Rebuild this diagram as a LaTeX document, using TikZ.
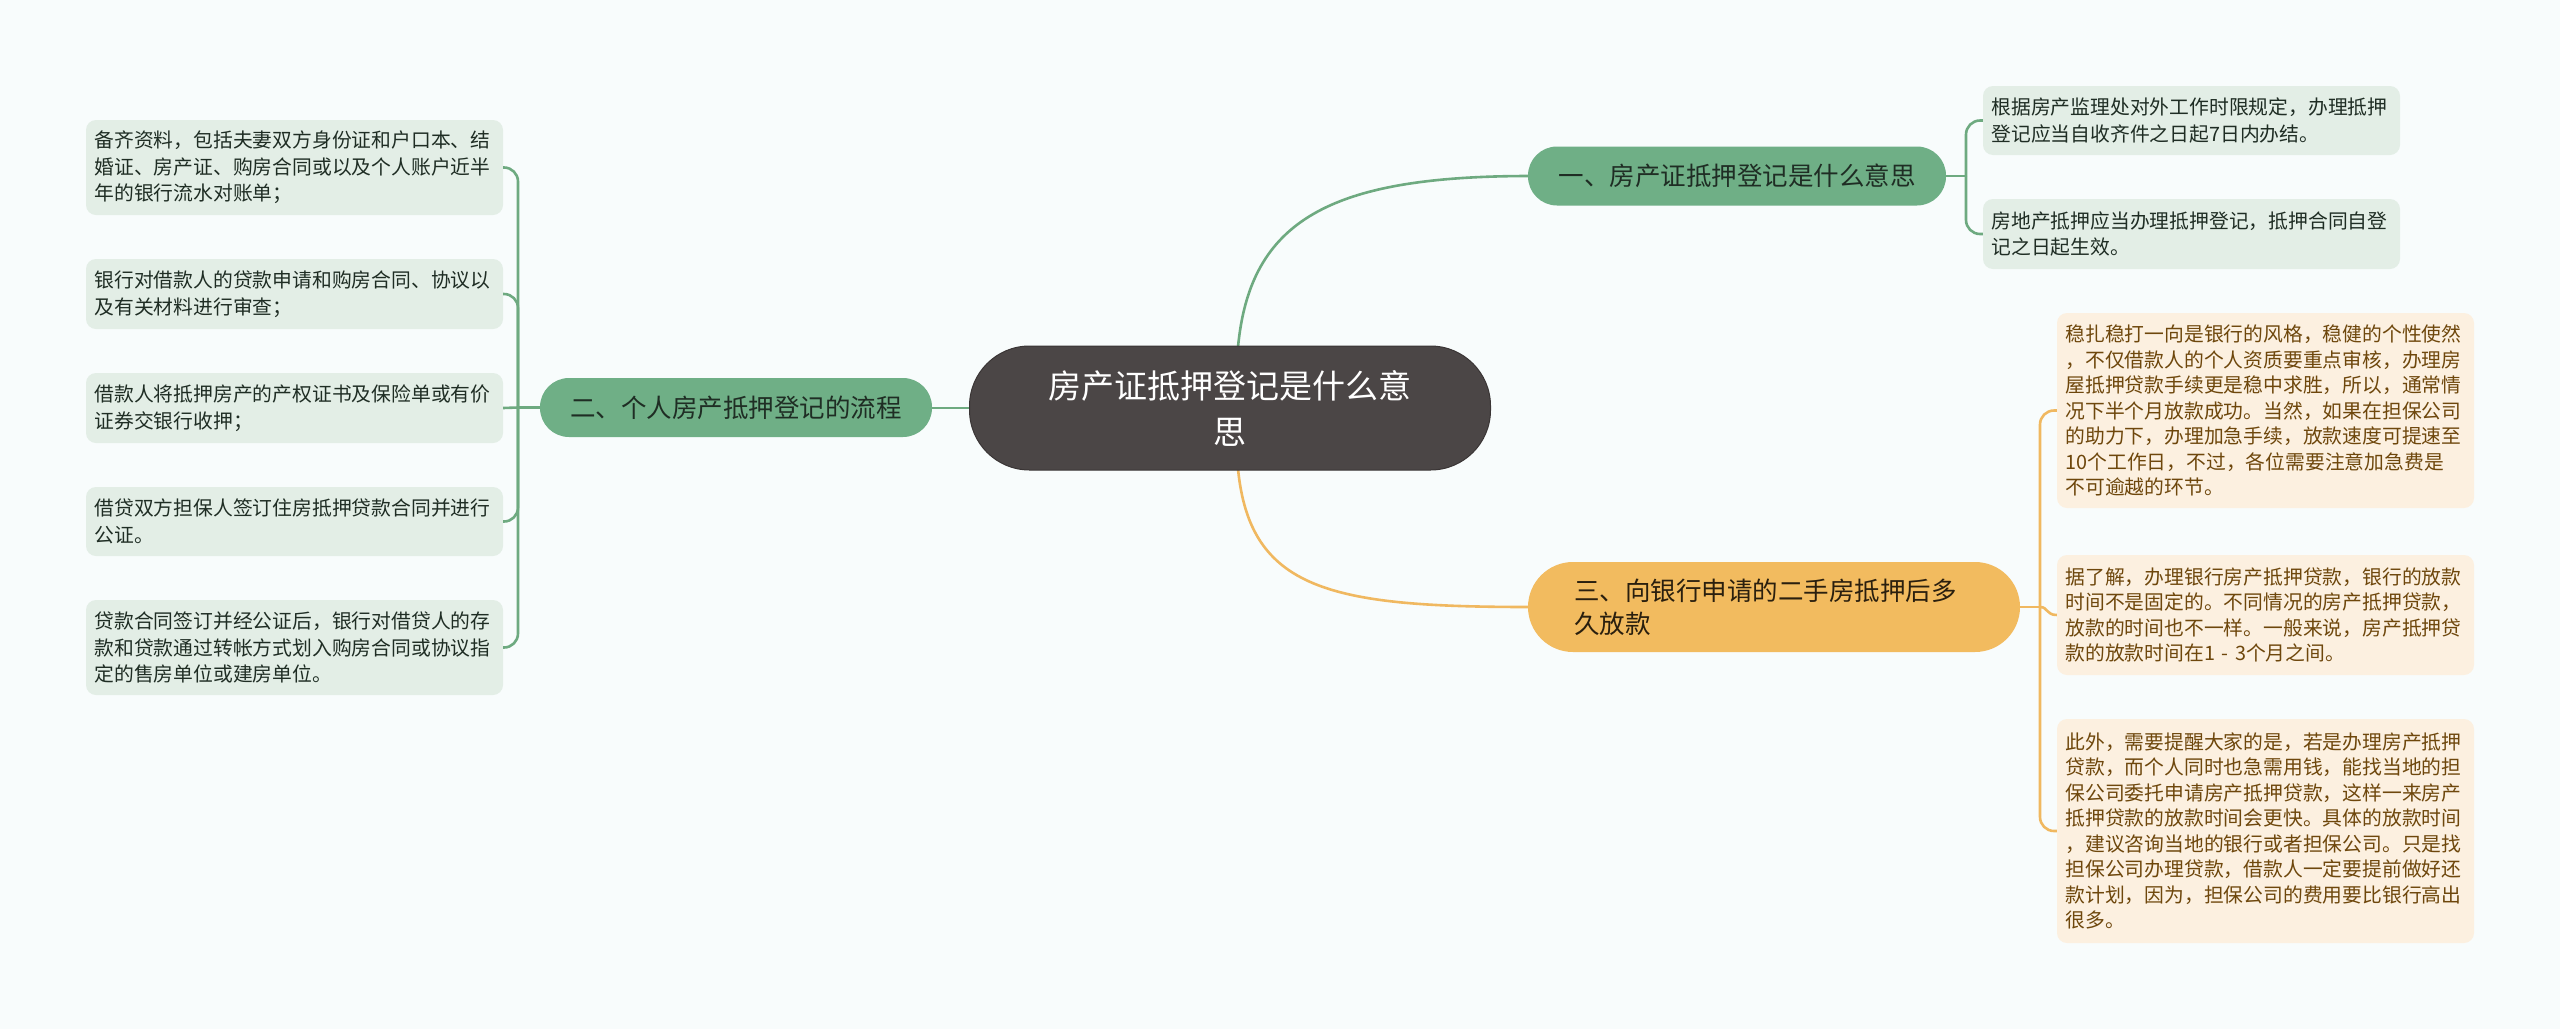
\documentclass[tikz,border=0pt]{standalone}
\usepackage{fontspec}
\setmainfont{Noto Sans CJK SC}
\definecolor{bg}{HTML}{F8FCFC}
\definecolor{cdark}{HTML}{4B4646}
\definecolor{cdarkb}{HTML}{3A3535}
\definecolor{gbranch}{HTML}{6FAF86}
\definecolor{gtext}{HTML}{1F2D24}
\definecolor{obranch}{HTML}{F2BB5F}
\definecolor{otext}{HTML}{2A1F0E}
\definecolor{gleaf}{HTML}{E3EEE6}
\definecolor{oleaf}{HTML}{FCF0E0}
\definecolor{oltext}{HTML}{6E470C}
\definecolor{gline}{HTML}{6EAA80}
\definecolor{oline}{HTML}{F0B860}
\tikzset{
  central/.style={fill=cdark, draw=cdarkb, line width=1pt, text=white, font=\fontsize{33}{46}\selectfont, align=center, minimum width=521pt, minimum height=124pt, rounded corners=60pt, inner sep=0pt},
  gbr/.style={fill=gbranch, text=gtext, font=\fontsize{25.5}{33}\selectfont, minimum height=59pt, rounded corners=29pt, inner sep=0pt},
  obr/.style={fill=obranch, text=otext, font=\fontsize{25.5}{33}\selectfont, minimum height=90pt, minimum width=492pt, rounded corners=45pt, inner sep=0pt, text width=400pt, align=left},
  gleafbox/.style={fill=gleaf, text=gtext, font=\fontsize{19.8}{26.5}\selectfont, text width=400pt, inner xsep=8.5pt, inner ysep=0pt, align=left, rounded corners=10pt},
  oleafbox/.style={fill=oleaf, text=oltext, font=\fontsize{19.8}{25.5}\selectfont, text width=400pt, inner xsep=8.5pt, inner ysep=0pt, align=left, rounded corners=10pt},
  gconn/.style={draw=gline, line width=2.6pt},
  oconn/.style={draw=oline, line width=2.6pt},
}
\begin{document}
\begin{tikzpicture}[x=1pt,y=-1pt]
\fill[bg] (0,0) rectangle (2560,1029);
\useasboundingbox (0,0) rectangle (2560,1029);

% connectors from centre
\coordinate (ctop) at (1238,347);
\coordinate (cbot) at (1238,469);
\coordinate (b1in) at (1530,176);
\coordinate (b3in) at (1530,607);
\draw[gconn] (ctop) .. controls (1250,220) and (1330,176) .. (b1in);
\draw[oconn] (cbot) .. controls (1250,590) and (1330,607) .. (b3in);
\coordinate (cleft) at (972,408);
\coordinate (b2out) at (930,408);
\draw[gconn] (cleft) -- (b2out);

% centre
\node[central] (c) at (1230,408) {房产证抵押登记是什么意\\思};

% branches
\node[gbr, minimum width=418pt] (b1) at (1737,176) {一、房产证抵押登记是什么意思};
\node[gbr, minimum width=392pt] (b2) at (736,407.5) {二、个人房产抵押登记的流程};
\node[obr] (b3) at (1774,607) {三、向银行申请的二手房抵押后多\\久放款};

% left leaves
\node[gleafbox, minimum height=95pt] (l1) at (294.5,167.5) {备齐资料，包括夫妻双方身份证和户口本、结\\婚证、房产证、购房合同或以及个人账户近半\\年的银行流水对账单；};
\node[gleafbox, minimum height=70pt] (l2) at (294.5,294) {银行对借款人的贷款申请和购房合同、协议以\\及有关材料进行审查；};
\node[gleafbox, minimum height=70pt] (l3) at (294.5,408) {借款人将抵押房产的产权证书及保险单或有价\\证券交银行收押；};
\node[gleafbox, minimum height=69pt] (l4) at (294.5,521.5) {借贷双方担保人签订住房抵押贷款合同并进行\\公证。};
\node[gleafbox, minimum height=95pt] (l5) at (294.5,647.5) {贷款合同签订并经公证后，银行对借贷人的存\\款和贷款通过转帐方式划入购房合同或协议指\\定的售房单位或建房单位。};

% right green leaves
\node[gleafbox, minimum height=69pt] (r1) at (2191.5,120.5) {根据房产监理处对外工作时限规定，办理抵押\\登记应当自收齐件之日起7日内办结。};
\node[gleafbox, minimum height=70pt] (r2) at (2191.5,234) {房地产抵押应当办理抵押登记，抵押合同自登\\记之日起生效。};

% orange leaves
\node[oleafbox, minimum height=195pt] (o1) at (2265.5,410.5) {稳扎稳打一向是银行的风格，稳健的个性使然\\，不仅借款人的个人资质要重点审核，办理房\\屋抵押贷款手续更是稳中求胜，所以，通常情\\况下半个月放款成功。当然，如果在担保公司\\的助力下，办理加急手续，放款速度可提速至\\10个工作日，不过，各位需要注意加急费是\\不可逾越的环节。};
\node[oleafbox, minimum height=120pt] (o2) at (2265.5,615) {据了解，办理银行房产抵押贷款，银行的放款\\时间不是固定的。不同情况的房产抵押贷款，\\放款的时间也不一样。一般来说，房产抵押贷\\款的放款时间在1 - 3个月之间。};
\node[oleafbox, minimum height=224pt] (o3) at (2265.5,831) {此外，需要提醒大家的是，若是办理房产抵押\\贷款，而个人同时也急需用钱，能找当地的担\\保公司委托申请房产抵押贷款，这样一来房产\\抵押贷款的放款时间会更快。具体的放款时间\\，建议咨询当地的银行或者担保公司。只是找\\担保公司办理贷款，借款人一定要提前做好还\\款计划，因为，担保公司的费用要比银行高出\\很多。};

% left bracket
\coordinate (lj) at (518,407.5);
\draw[gconn] (b2.west) -- (lj);
\draw[gconn, rounded corners=14pt] (lj) -- (518,167.5) -- (l1.east);
\draw[gconn, rounded corners=14pt] (lj) -- (518,294) -- (l2.east);
\draw[gconn] (lj) -- (l3.east);
\draw[gconn, rounded corners=14pt] (lj) -- (518,521.5) -- (l4.east);
\draw[gconn, rounded corners=14pt] (lj) -- (518,647.5) -- (l5.east);

% right green bracket
\coordinate (rj) at (1966,176);
\draw[gconn] (b1.east) -- (rj);
\draw[gconn, rounded corners=14pt] (rj) -- (1966,120.5) -- (r1.west);
\draw[gconn, rounded corners=14pt] (rj) -- (1966,234) -- (r2.west);

% orange bracket
\coordinate (oj) at (2040,607);
\draw[oconn] (b3.east) -- (oj);
\draw[oconn, rounded corners=14pt] (oj) -- (2040,410.5) -- (o1.west);
\draw[oconn] (oj) .. controls (2048,607) and (2046,615) .. (o2.west);
\draw[oconn, rounded corners=14pt] (oj) -- (2040,831) -- (o3.west);
\end{tikzpicture}
\end{document}
